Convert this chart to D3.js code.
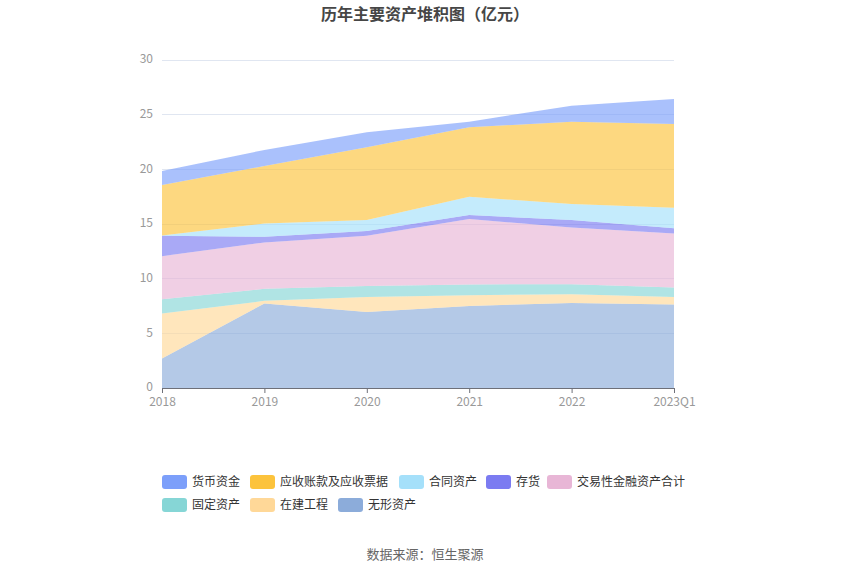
<!DOCTYPE html>
<html><head><meta charset="utf-8">
<script src="https://cdn.jsdelivr.net/npm/d3@7/dist/d3.min.js"></script>
<style>body{margin:0;background:#fff;font-family:"Noto Sans CJK SC","Noto Sans",sans-serif;}</style>
</head><body><svg id="c" width="850" height="575"></svg>
<script>
const categories = ["2018","2019","2020","2021","2022","2023Q1"];
const seriesNames = ["货币资金","应收账款及应收票据","合同资产","存货","交易性金融资产合计","固定资产","在建工程","无形资产"];
const seriesColors = ["#7c9ffa","#fcc33c","#a5e0fa","#7b7bf1","#e8b6d6","#86d6d6","#ffd898","#8cacda"];
const 货币资金 = [1.28, 1.47, 1.38, 0.51, 1.46, 2.29];
const 应收账款及应收票据 = [4.61, 5.25, 6.65, 6.36, 7.54, 7.67];
const 合同资产 = [0.03, 1.22, 1.01, 1.67, 1.46, 1.88];
const 存货 = [1.86, 0.52, 0.43, 0.37, 0.67, 0.46];
const 交易性金融资产合计 = [3.94, 4.24, 4.58, 5.98, 5.19, 4.95];
const 固定资产 = [1.31, 1.10, 1.01, 0.98, 0.92, 0.86];
const 在建工程 = [4.12, 0.24, 1.37, 0.98, 0.80, 0.69];
const 无形资产 = [2.69, 7.73, 6.96, 7.51, 7.78, 7.64];
const yTicks = [0,5,10,15,20,25,30];

const valuesByName = {货币资金, 应收账款及应收票据, 合同资产, 存货, 交易性金融资产合计, 固定资产, 在建工程, 无形资产};
const stackOrder = seriesNames.slice().reverse(); // bottom first
const table = categories.map((c,i)=>{const o={cat:c}; seriesNames.forEach(n=>o[n]=valuesByName[n][i]); return o;});
const stacked = d3.stack().keys(stackOrder)(table);

const svg = d3.select("#c");
const x = d3.scalePoint().domain(categories).range([162,674]);
const y = d3.scaleLinear().domain([0,30]).range([388,60]);

// grid
svg.append("g").selectAll("line").data(yTicks.filter(t=>t>0)).join("line")
  .attr("x1",162).attr("x2",674).attr("y1",d=>y(d)).attr("y2",d=>y(d))
  .attr("stroke","#e0e6f1").attr("stroke-width",1).attr("shape-rendering","crispEdges");

const area = d3.area().x(d=>x(d.data.cat)).y0(d=>y(d[0])).y1(d=>y(d[1]));
const colorOf = n => seriesColors[seriesNames.indexOf(n)];
svg.append("g").selectAll("path").data(stacked).join("path")
  .attr("d",area).attr("fill",d=>colorOf(d.key)).attr("fill-opacity",0.65);

// y axis labels
svg.append("g").selectAll("text").data(yTicks).join("text")
  .attr("x",153).attr("y",d=>y(d)-1).attr("dy","0.35em").attr("text-anchor","end")
  .attr("font-size",12).attr("fill","#999").text(d=>d);

// x axis
const xa = svg.append("g").attr("transform","translate(0,388)").call(d3.axisBottom(x).tickSize(5).tickPadding(4));
xa.select(".domain").attr("stroke","#6e7079");
xa.selectAll(".tick line").attr("stroke","#6e7079");
xa.selectAll("text").attr("fill","#999").attr("font-size",12).attr("font-family","\"Noto Sans CJK SC\",sans-serif");

// title
svg.append("text").attr("x",425).attr("y",20).attr("text-anchor","middle")
  .attr("font-size",16).attr("font-weight","bold").attr("fill","#464646").text("历年主要资产堆积图（亿元）");

// legend
const legendPos = [[162,482],[250,482],[399,482],[486,482],[547,482],[162,505],[250,505],[338,505]];
const lg = svg.append("g").selectAll("g").data(seriesNames).join("g")
  .attr("transform",(d,i)=>`translate(${legendPos[i][0]},${legendPos[i][1]})`);
lg.append("rect").attr("x",0).attr("y",-7).attr("width",25).attr("height",14).attr("rx",3)
  .attr("fill",(d,i)=>seriesColors[i]);
lg.append("text").attr("x",30).attr("dy","0.35em").attr("font-size",12).attr("fill","#333").text(d=>d);

// source
svg.append("text").attr("x",425).attr("y",559).attr("text-anchor","middle")
  .attr("font-size",13).attr("fill","#666").text("数据来源：恒生聚源");
</script></body></html>
